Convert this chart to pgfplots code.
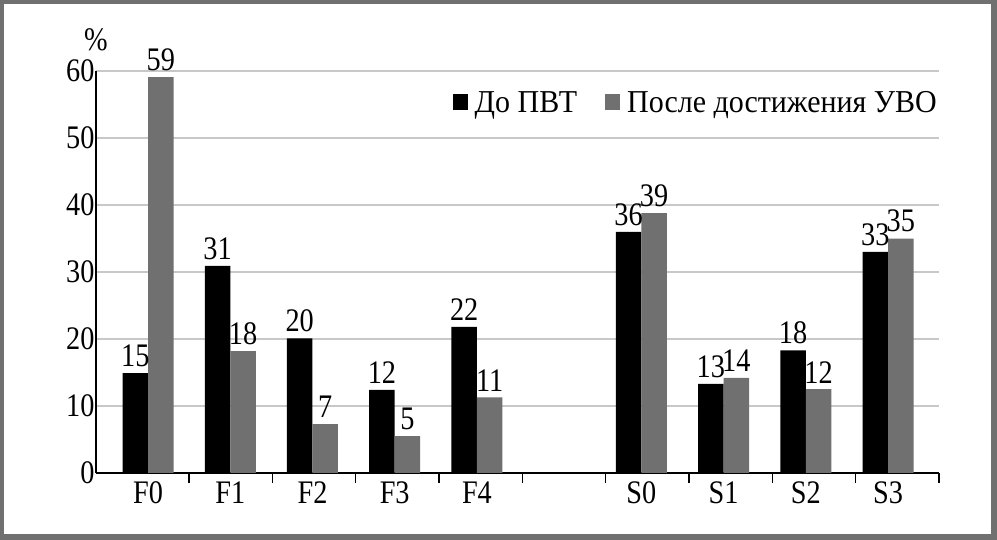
\documentclass[border=0pt]{standalone}
\usepackage{pgfplots}
\pgfplotsset{compat=1.18}
\usepackage{fontspec}
\setmainfont[FakeStretch=0.94]{Liberation Serif}
\newfontfamily\narrowserif[FakeStretch=0.86]{Liberation Serif}
\definecolor{barg}{RGB}{112,112,112}
\definecolor{gridg}{RGB}{200,200,200}
\definecolor{frameg}{RGB}{112,112,112}
\newcommand{\bigf}{\narrowserif\fontsize{33}{39}\selectfont}
\newcommand{\legf}{\fontsize{32}{38}\selectfont}
\begin{document}
\begin{tikzpicture}
\useasboundingbox (0,0) rectangle (997bp,540bp);
\fill[frameg] (0,0) rectangle (997bp,540bp);
\fill[white] (4bp,6bp) rectangle (991bp,536bp);
\begin{axis}[
 name=ax,
 at={(96bp,67bp)}, anchor=south west,
 scale only axis, width=843bp, height=402bp,
 xmin=-0.633, xmax=9.62, ymin=0, ymax=60,
 axis x line=bottom, axis y line=left,
 axis line style={-, black, line width=2bp},
 ytick={0,10,20,30,40,50,60},
 yticklabels={0,10,20,30,40,50,60},
 xtick={0,1,2,3,4,6,7,8,9},
 xticklabels={F0,F1,F2,F3,F4,S0,S1,S2,S3},
 minor xtick={0.4988,1.5122,2.5255,3.5389,4.5523,5.5657,6.579,7.5924,8.6058,9.6192},
 major tick length=0pt, minor tick length=10bp,
 tick align=outside,
 minor x tick style={black, line width=1.5bp},
 ymajorgrids, grid style={gridg, line width=1.5bp},
 tick label style={font=\bigf},
 xticklabel style={yshift=-5bp},
 yticklabel style={xshift=2bp},
 ybar=0pt, bar width=25.5bp,
 nodes near coords, point meta=explicit symbolic,
 every node near coord/.append style={font=\bigf, black, inner sep=2bp, yshift=4bp},
 legend style={at={(rel axis cs:1,0.92)}, anchor=east, xshift=2bp, draw=none, fill=none,
   font=\legf, inner sep=2bp,
   /tikz/every odd column/.append style={column sep=5bp},
   /tikz/every even column/.append style={column sep=26bp}},
 legend columns=-1,
 legend image code/.code={\fill[#1] (0bp,-7bp) rectangle (15bp,9bp);},
]
\addplot[fill=black, draw=none] table[x=x, y=y, meta=l] {
x y l
0 14.9 15
1 30.9 31
2 20.1 20
3 12.4 12
4 21.8 22
6 36.0 36
7 13.3 13
8 18.3 18
9 33.0 33
};
\addplot[fill=barg, draw=none] table[x=x, y=y, meta=l] {
x y l
0 59.1 59
1 18.2 18
2 7.3 7
3 5.5 5
4 11.3 11
6 38.8 39
7 14.2 14
8 12.5 12
9 35.0 35
};
\legend{До ПВТ, После достижения УВО}
\end{axis}
\node[font=\bigf] at ([yshift=31bp]ax.north west) {\%};
\end{tikzpicture}
\end{document}
